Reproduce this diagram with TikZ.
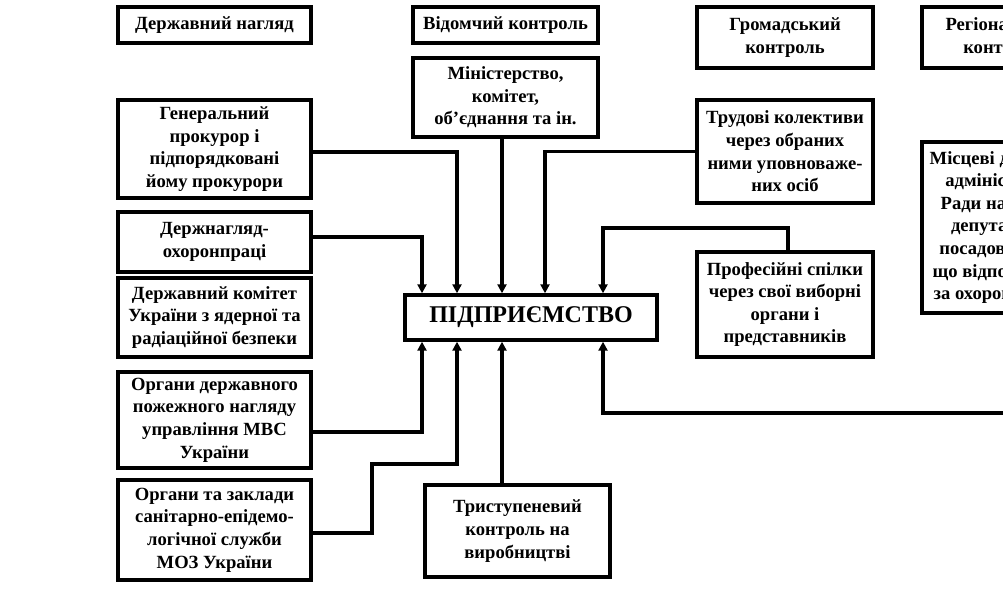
\documentclass[tikz,border=0pt]{standalone}
\usepackage{fontspec}
\setmainfont{Liberation Serif}
\usetikzlibrary{arrows.meta,calc}
\tikzset{
  box/.style={draw=black, line width=3.4pt, fill=white, inner sep=0pt, align=center,
    font=\bfseries\fontsize{18.6}{22.6}\selectfont},
  conn/.style={draw=black, line width=3.2pt},
  arr/.style={conn, -{Triangle[width=9pt,length=9pt]}},
}
\begin{document}
\begin{tikzpicture}[x=1pt,y=-1pt]
\useasboundingbox (0,0) rectangle (1003,601);
\clip (0,0) rectangle (1003,601);
\fill[white] (0,0) rectangle (1003,601);
% headers
\node[box, minimum width=193pt, minimum height=36pt] (dn) at (214.5,25) {Державний нагляд};
\node[box, minimum width=185pt, minimum height=36pt] (vk) at (505.5,25) {Відомчий контроль};
\node[box, minimum width=176pt, minimum height=61pt] (gk) at (785,37.5) {Громадський\\контроль};
\node[box, minimum width=162pt, minimum height=61pt] (rk) at (1003,37.5) {Регіональний\\контроль};
% left column
\node[box, minimum width=193pt, minimum height=98pt] (gp) at (214.5,149) {Генеральний\\прокурор і\\підпорядковані\\йому прокурори};
\node[box, minimum width=193pt, minimum height=60pt] (dnop) at (214.5,242) {Держнагляд-\\охоронпраці};
\node[box, minimum width=193pt, minimum height=79pt] (dk) at (214.5,317.5) {Державний комітет\\України з ядерної та\\радіаційної безпеки};
\node[box, minimum width=193pt, minimum height=96pt] (op) at (214.5,420) {Органи державного\\пожежного нагляду\\управління МВС\\України};
\node[box, minimum width=193pt, minimum height=100pt] (oz) at (214.5,530) {Органи та заклади\\санітарно-епідемо-\\логічної служби\\МОЗ України};
% middle
\node[box, minimum width=185pt, minimum height=79pt] (min) at (505.5,97.5) {Міністерство,\\комітет,\\об’єднання та ін.};
\node[box, minimum width=252pt, minimum height=45pt, font=\bfseries\fontsize{24}{28}\selectfont] (pid) at (531,317.5) {ПІДПРИЄМСТВО};
\node[box, minimum width=185pt, minimum height=92pt] (tr) at (517.5,531) {Триступеневий\\контроль на\\виробництві};
% right
\node[box, minimum width=176pt, minimum height=103pt] (tk) at (785,151.5) {Трудові колективи\\через обраних\\ними уповноваже-\\них осіб};
\node[box, minimum width=176pt, minimum height=105pt] (ps) at (785,304.5) {Професійні спілки\\через свої виборні\\органи і\\представників};
\node[box, minimum width=162pt, minimum height=171pt] (mis) at (1003,227.5) {Місцеві державні\\адміністрації,\\Ради народних\\депутатів, їх\\посадові особи,\\що відповідають\\за охорону праці};
% x positions of connectors
\coordinate (x422) at (422,0);
\coordinate (x457) at (457,0);
\coordinate (x502) at (502,0);
\coordinate (x545) at (545,0);
\coordinate (x603) at (603,0);
\coordinate (x788) at (788,0);
\coordinate (x1040) at (1040,0);
% into top
\draw[arr] ($(gp.east)+(0,3)$) -| (pid.north -| x457);
\draw[arr] ($(dnop.east)+(0,-5)$) -| (pid.north -| x422);
\draw[arr] (min.south -| x502) -- (pid.north -| x502);
\draw[arr] (tk.west) -| (pid.north -| x545);
\draw[arr] (ps.north -| x788) -- (788,228) -| (pid.north -| x603);
% into bottom
\draw[arr] ($(op.east)+(0,12)$) -| (pid.south -| x422);
\draw[arr] ($(oz.east)+(0,3)$) -| (372,464) -| (pid.south -| x457);
\draw[arr] (tr.north -| x502) -- (pid.south -| x502);
\draw[arr] (mis.south -| x1040) |- (603,413) -- (pid.south -| x603);
\end{tikzpicture}
\end{document}
